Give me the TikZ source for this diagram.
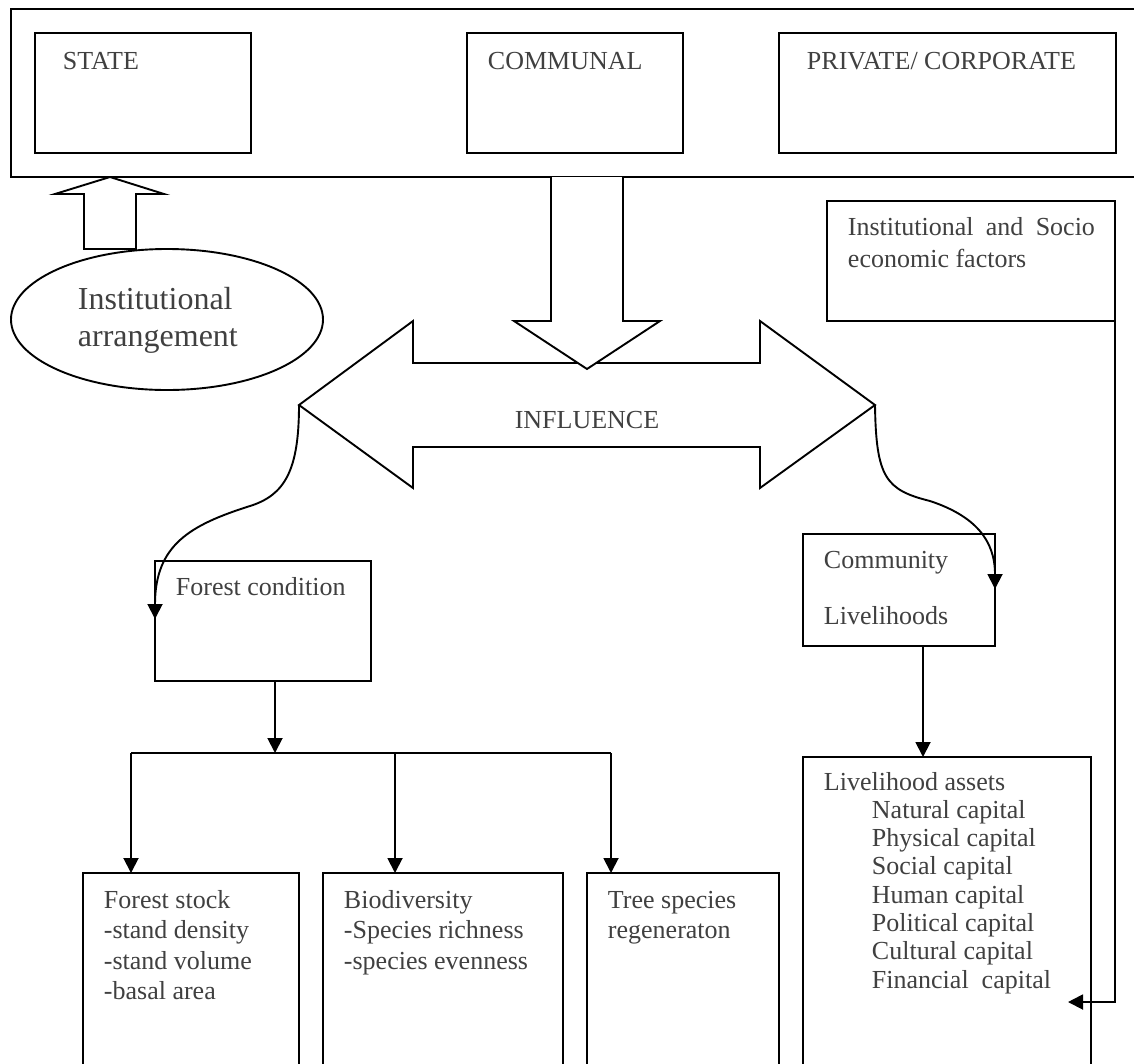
\documentclass[tikz,border=0pt]{standalone}
\usepackage{fontspec}
\setmainfont{Liberation Serif}
\usetikzlibrary{arrows.meta,shapes.geometric}
\definecolor{txt}{HTML}{404040}
\begin{document}
\begin{tikzpicture}[x=1pt,y=-1pt,line width=1.9pt,
  box/.style={draw,rectangle,inner sep=0pt,outer sep=0pt,anchor=north west,fill=white},
  lbl/.style={anchor=base west,inner sep=0pt,text=txt,font=\fontsize{26}{30.5}\selectfont,align=left},
  lbltight/.style={lbl,font=\fontsize{26}{28.3}\selectfont},
  big/.style={lbl,font=\fontsize{32}{37}\selectfont},
  arr/.style={-{Triangle[length=15pt,width=15pt]}}]
\useasboundingbox (0,0) rectangle (1134,1063);
\clip (0,0) rectangle (1134,1063);

% top container
\node[box,minimum width=1140pt,minimum height=168pt] (outer) at (11,9) {};
\node[box,minimum width=216pt,minimum height=120pt] (state) at (35,33) {};
\node[box,minimum width=216pt,minimum height=120pt] (communal) at (467,33) {};
\node[box,minimum width=337pt,minimum height=120pt] (private) at (779,33) {};
\node[lbl] (tstate) at (62,69) {STATE};
\node[lbl] (tcommunal) at (487,69) {COMMUNAL};
\node[lbl] (tprivate) at (806,69) {PRIVATE/ CORPORATE};

% institutional arrangement
\node[draw,ellipse,minimum width=312pt,minimum height=141pt,inner sep=0pt] (ia) at (167,319.5) {};
\node[big] (tia) at (77,346) {Institutional\\arrangement};
\draw[fill=white] (84,249) -- (84,194) -- (55,194) -- (110,177) -- (164,194) -- (136,194) -- (136,249) -- cycle;

% influence double arrow
\draw[fill=white] (299,405) -- (413,321) -- (413,363) -- (760,363) -- (760,321) -- (875,405)
  -- (760,488) -- (760,447) -- (413,447) -- (413,488) -- cycle;
\node[lbl,anchor=base] (tinfl) at (587,428) {INFLUENCE};
\draw[fill=white] (551,177) -- (551,321) -- (514,321) -- (587,369) -- (660,321) -- (623,321) -- (623,177);
\coordinate (ltip) at (299,405);
\coordinate (rtip) at (875,405);

% institutional & socio economic factors
\node[box,minimum width=288pt,minimum height=120pt] (isf) at (827,201) {};
\node[lbl,font=\fontsize{26}{32}\selectfont] (tisf) at (847,267) {\makebox[247pt][s]{Institutional and Socio}\\economic factors};

% forest condition
\node[box,minimum width=216pt,minimum height=120pt] (fc) at (155,561) {};
\node[lbl] (tfc) at (175,595) {Forest condition};

% community livelihoods
\node[box,minimum width=192pt,minimum height=112pt] (comm) at (803,534) {};
\node[lbl,font=\fontsize{26}{56}\selectfont] (tcomm) at (823,624) {Community\\Livelihoods};

% curved influence arrows
\coordinate (fcin) at (155,619);
\coordinate (commin) at (995,589);
\draw[arr] (ltip) .. controls (299,470) and (285,495) .. (250,506)
  .. controls (190,525) and (155,545) .. (fcin);
\draw[arr] (rtip) .. controls (876,478) and (886,490) .. (930,501)
  .. controls (975,516) and (995,540) .. (commin);

% bottom boxes
\node[box,minimum width=216pt,minimum height=220pt] (fs) at (83,873) {};
\node[box,minimum width=240pt,minimum height=220pt] (bio) at (323,873) {};
\node[box,minimum width=192pt,minimum height=220pt] (tree) at (587,873) {};
\node[box,minimum width=288pt,minimum height=330pt] (la) at (803,757) {};
\node[lbl] (tfs) at (103,999.5) {Forest stock\\-stand density\\-stand volume\\-basal area};
\node[lbl] (tbio) at (343,969) {Biodiversity\\-Species richness\\-species evenness};
\node[lbl] (ttree) at (607,938.5) {Tree species\\regeneraton};
\node[lbltight] (tla) at (823,988.1) {Livelihood assets\\
  \hspace*{48pt}Natural capital\\
  \hspace*{48pt}Physical capital\\
  \hspace*{48pt}Social capital\\
  \hspace*{48pt}Human capital\\
  \hspace*{48pt}Political capital\\
  \hspace*{48pt}Cultural capital\\
  \hspace*{48pt}Financial\ \ capital};

% forest branches
\coordinate (br) at (275,753);
\coordinate (brL) at (131,753);
\coordinate (brM) at (395,753);
\coordinate (brR) at (611,753);
\draw[arr] (fc.south -| br) -- (br);
\draw (brL) -- (brR);
\draw[arr] (brL) -- (brL |- fs.north);
\draw[arr] (brM) -- (brM |- bio.north);
\draw[arr] (brR) -- (brR |- tree.north);

% livelihood connectors
\coordinate (cx) at (923,646);
\draw[arr] (cx) -- (cx |- la.north);
\coordinate (fb) at (1068,1002);
\draw[arr] (isf.south east) -- (isf.south east |- fb) -- (fb);
\end{tikzpicture}
\end{document}
